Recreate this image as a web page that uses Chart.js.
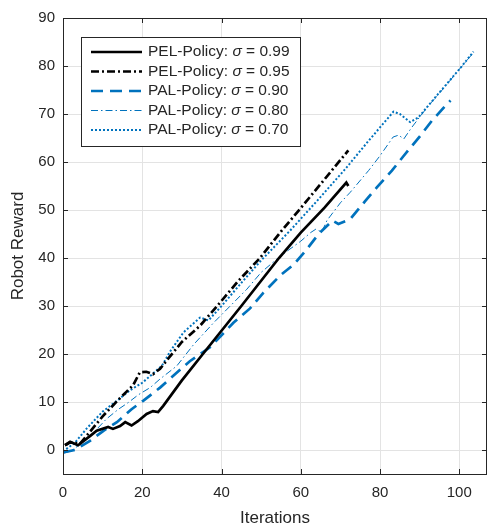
<!DOCTYPE html>
<html>
<head>
<meta charset="utf-8">
<script src="https://cdn.jsdelivr.net/npm/chart.js@4/dist/chart.umd.min.js"></script>
<style>
    body { margin: 0; background: #fff; }
    canvas { display: block; }
</style>
</head>
<body>
<canvas id="rewardChart" width="488" height="525"></canvas>
<script>
// x range / ticks
const xTicks = [0, 20, 40, 60, 80, 100];
const yTicks = [0, 10, 20, 30, 40, 50, 60, 70, 80, 90];

// PEL-Policy sigma = 0.99 (solid black)
const pel99X = [0.5, 0.9, 1.8, 3.8, 6.8, 8.5, 11.4, 12.6, 14.4, 15.7, 17.3, 18.9, 21.1, 22.7, 24, 25.3, 30, 35.3, 45, 54.5, 60, 66, 71.5, 72];
const pel99Y = [1.0, 1.2, 1.7, 1.0, 2.9, 4.0, 4.8, 4.4, 5.0, 5.8, 5.1, 6.0, 7.5, 8.1, 7.9, 9.2, 14.5, 20, 30, 40, 45.3, 50.5, 55.7, 55];

// PEL-Policy sigma = 0.95 (black dash-dot)
const pel95X = [0.5, 1.8, 4.3, 7, 10, 14, 17.7, 19.4, 21, 22.7, 24.5, 27, 30, 34.6, 38.9, 44, 49.7, 55, 60, 66, 72];
const pel95Y = [1.0, 1.6, 1.3, 4, 7, 10.5, 13.5, 16.2, 16.3, 15.8, 16.9, 19.5, 22.5, 25.9, 30, 35, 40, 45.5, 50.4, 56.4, 62.4];

// PAL-Policy sigma = 0.90 (thick blue dashed)
const pal90X = [0, 3, 6.8, 10.2, 13.6, 17.3, 20.3, 24.5, 27.9, 32, 37.1, 43, 47.2, 50.6, 55, 58.2, 61.5, 64.5, 68, 69.5, 72.5, 76.3, 79.2, 83, 86, 90.2, 93.1, 96.5, 97.8];
const pal90Y = [-0.5, 0, 1.9, 4, 5.8, 8.5, 10.3, 13, 15.5, 18.5, 21.4, 26.5, 29.5, 32.8, 36.5, 38.6, 41.8, 45, 47.8, 47.1, 48.1, 51.9, 54.7, 58.2, 61.3, 65.5, 68.6, 71.7, 72.8];

// PAL-Policy sigma = 0.80 (thin blue dash-dot)
const pal80X = [0, 2, 4, 7, 11, 14, 16.5, 19, 22, 24.5, 28.7, 33, 38, 42.2, 46.4, 50, 55, 60, 62.5, 63.8, 65.3, 66.6, 70, 72.5, 77.1, 80, 83.3, 84.7, 86, 88, 92, 96, 100, 103.3];
const pal80Y = [-0.7, -0.2, 1, 3, 6.5, 8.5, 9.9, 11.5, 13, 14.8, 17.5, 22, 26.5, 30, 33.5, 37, 40.5, 43.5, 45.3, 46, 45.4, 47.8, 51.5, 53.7, 58.2, 61.3, 65.2, 65.6, 64.8, 67.2, 71.5, 75.3, 79.3, 82.5];

// PAL-Policy sigma = 0.70 (blue dotted)
const pal70X = [0, 3, 6, 10, 14, 17, 20, 22.8, 25, 27, 30.4, 34.6, 36.7, 40, 45, 50, 57.3, 64, 71.2, 77, 83.4, 85, 87.6, 89.7, 95, 100, 103.6];
const pal70Y = [-0.3, 1.5, 4.5, 8, 10.5, 12.5, 14, 16, 17.6, 20.5, 24.5, 27.6, 27, 30, 34.8, 39.5, 45.7, 51.8, 58.5, 64.3, 70.5, 70, 68.3, 69.3, 74.5, 79.3, 83];

const BLUE = '#0072BD';
const AXIS = '#262626';
const FONT = '"Liberation Sans", Arial, Helvetica, sans-serif';

function pts(xs, ys) {
    return xs.map((x, i) => ({ x: x, y: ys[i] }));
}

const series = [
    { sigma: '0.99', name: 'PEL-Policy', x: pel99X, y: pel99Y, color: '#000', width: 2.7, dash: [] },
    { sigma: '0.95', name: 'PEL-Policy', x: pel95X, y: pel95Y, color: '#000', width: 2.7, dash: [8, 3, 2, 3] },
    { sigma: '0.90', name: 'PAL-Policy', x: pal90X, y: pal90Y, color: BLUE, width: 2.7, dash: [12, 7] },
    { sigma: '0.80', name: 'PAL-Policy', x: pal80X, y: pal80Y, color: BLUE, width: 1, dash: [7, 3, 1.5, 3] },
    { sigma: '0.70', name: 'PAL-Policy', x: pal70X, y: pal70Y, color: BLUE, width: 2, dash: [2, 2] }
];

// matlab style box with inward ticks
const axesBox = {
    id: 'axesBox',
    afterDatasetsDraw(chart) {
        const { ctx, chartArea: a, scales } = chart;
        ctx.save();
        ctx.strokeStyle = AXIS;
        ctx.lineWidth = 1;
        ctx.beginPath();
        xTicks.forEach(v => {
            const px = Math.round(scales.x.getPixelForValue(v)) + 0.5;
            ctx.moveTo(px, a.bottom); ctx.lineTo(px, a.bottom - 5);
            ctx.moveTo(px, a.top); ctx.lineTo(px, a.top + 5);
        });
        yTicks.forEach(v => {
            const py = Math.round(scales.y.getPixelForValue(v)) + 0.5;
            ctx.moveTo(a.left, py); ctx.lineTo(a.left + 5, py);
            ctx.moveTo(a.right, py); ctx.lineTo(a.right - 5, py);
        });
        ctx.stroke();
        ctx.strokeRect(Math.round(a.left) + 0.5, Math.round(a.top) + 0.5,
            Math.round(a.right - a.left) - 1, Math.round(a.bottom - a.top));
        ctx.restore();
    }
};

// legend box, top-left inside the axes
const legendBox = {
    id: 'legendBox',
    afterDraw(chart) {
        const ctx = chart.ctx;
        const bx = 81, by = 37, bw = 219, bh = 109;
        ctx.save();
        ctx.fillStyle = '#fff';
        ctx.fillRect(bx, by, bw, bh);
        ctx.strokeStyle = AXIS;
        ctx.lineWidth = 1;
        ctx.strokeRect(bx + 0.5, by + 0.5, bw, bh);
        ctx.textBaseline = 'middle';
        series.forEach((s, i) => {
            const y = 52 + i * 19.5;
            ctx.strokeStyle = s.color;
            ctx.lineWidth = s.width;
            ctx.setLineDash(s.dash);
            ctx.beginPath();
            ctx.moveTo(91, y);
            ctx.lineTo(142, y);
            ctx.stroke();
            ctx.setLineDash([]);
            ctx.fillStyle = AXIS;
            let tx = 148;
            ctx.font = '15.5px ' + FONT;
            const first = s.name + ': ';
            ctx.fillText(first, tx, y);
            tx += ctx.measureText(first).width;
            ctx.font = 'italic 15.5px ' + FONT;
            ctx.fillText('\u03C3', tx, y);
            tx += ctx.measureText('\u03C3').width;
            ctx.font = '15.5px ' + FONT;
            ctx.fillText(' = ' + s.sigma, tx, y);
        });
        ctx.restore();
    }
};

const ctx = document.getElementById('rewardChart').getContext('2d');
new Chart(ctx, {
    type: 'line',
    data: {
        datasets: series.map(s => ({
            label: s.name + ': \u03C3 = ' + s.sigma,
            data: pts(s.x, s.y),
            borderColor: s.color,
            borderWidth: s.width,
            borderDash: s.dash,
            pointRadius: 0,
            tension: 0,
            fill: false
        }))
    },
    options: {
        responsive: false,
        animation: false,
        layout: { padding: { top: 18, right: 1, left: 0, bottom: 0 } },
        plugins: {
            legend: { display: false },
            tooltip: { enabled: false }
        },
        scales: {
            x: {
                type: 'linear',
                min: 0,
                max: 107,
                afterBuildTicks: s => { s.ticks = xTicks.map(v => ({ value: v })); },
                afterFit: s => { s.height = 51; },
                border: { display: false },
                grid: { color: '#e3e3e3', drawTicks: false },
                ticks: { color: AXIS, font: { family: FONT, size: 15 }, padding: 10, maxRotation: 0 },
                title: { display: true, text: 'Iterations', color: AXIS, font: { family: FONT, size: 17 }, padding: { top: 0, bottom: -4 } }
            },
            y: {
                type: 'linear',
                min: -5,
                max: 90,
                afterBuildTicks: s => { s.ticks = yTicks.map(v => ({ value: v })); },
                afterFit: s => { s.width = 63; },
                border: { display: false },
                grid: { color: '#e3e3e3', drawTicks: false },
                ticks: { color: AXIS, font: { family: FONT, size: 15 }, padding: 8 },
                title: { display: true, text: 'Robot Reward', color: AXIS, font: { family: FONT, size: 17 }, padding: { top: 8, bottom: 0 } }
            }
        }
    },
    plugins: [axesBox, legendBox]
});
</script>
</body>
</html>
